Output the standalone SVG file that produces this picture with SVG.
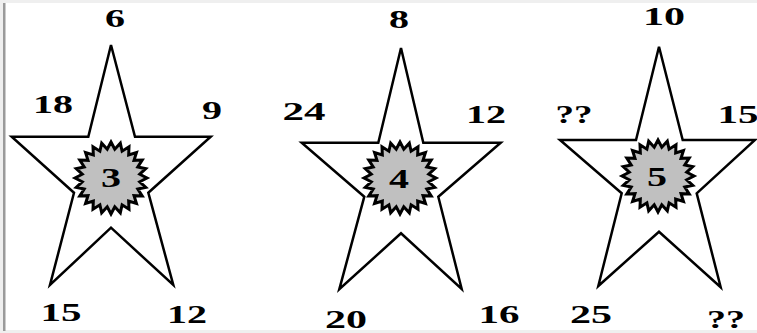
<svg xmlns="http://www.w3.org/2000/svg" xmlns:xlink="http://www.w3.org/1999/xlink" width="757" height="333" viewBox="0 0 757 333">
<style>
.star{fill:#fff;stroke:#000;stroke-width:2.5;stroke-linejoin:miter}
.burst{fill:#c0c0c0;stroke:#000;stroke-width:3;stroke-linejoin:miter}
.lbl{font-family:"Liberation Serif","Times New Roman",serif;font-weight:bold;font-size:26px;fill:#000;text-anchor:middle}
.ctr{font-family:"Liberation Serif","Times New Roman",serif;font-weight:bold;font-size:27px;fill:#000;text-anchor:middle}
</style>
<defs>
<polygon id="sun" points="0,-36 3.78,-28.75 9.32,-34.77 11.1,-26.79 18,-31.18 17.66,-23.01 25.46,-25.46 23.01,-17.66 31.18,-18 26.79,-11.1 34.77,-9.32 28.75,-3.78 36,0 28.75,3.78 34.77,9.32 26.79,11.1 31.18,18 23.01,17.66 25.46,25.46 17.66,23.01 18,31.18 11.1,26.79 9.32,34.77 3.78,28.75 0,36 -3.78,28.75 -9.32,34.77 -11.1,26.79 -18,31.18 -17.66,23.01 -25.46,25.46 -23.01,17.66 -31.18,18 -26.79,11.1 -34.77,9.32 -28.75,3.78 -36,0 -28.75,-3.78 -34.77,-9.32 -26.79,-11.1 -31.18,-18 -23.01,-17.66 -25.46,-25.46 -17.66,-23.01 -18,-31.18 -11.1,-26.79 -9.32,-34.77 -3.78,-28.75"/>
</defs>
<rect x="0" y="0" width="757" height="333" fill="#fff"/>
<rect x="0" y="0" width="757" height="3" fill="#efefef"/>
<rect x="0" y="330" width="757" height="3" fill="#efefef"/>
<rect x="0" y="0" width="3" height="333" fill="#efefef"/>
<rect x="3" y="3" width="2.5" height="328" fill="#9a9a9a"/>

<g id="star1">
<polygon class="star" points="111,45 135,136.7 210.7,136.7 148.3,192.7 173.3,285 111,227.7 50,285 74,192.7 11.7,136.7 88.3,136.7"/>
<use xlink:href="#sun" href="#sun" class="burst" transform="translate(111,178)"/>
<text class="ctr" x="111" y="187" textLength="20" lengthAdjust="spacingAndGlyphs">3</text>
<text class="lbl" x="115" y="27" textLength="20" lengthAdjust="spacingAndGlyphs">6</text>
<text class="lbl" x="53" y="113" textLength="40" lengthAdjust="spacingAndGlyphs">18</text>
<text class="lbl" x="212" y="119" textLength="20" lengthAdjust="spacingAndGlyphs">9</text>
<text class="lbl" x="61" y="321" textLength="41" lengthAdjust="spacingAndGlyphs">15</text>
<text class="lbl" x="187" y="323" textLength="40" lengthAdjust="spacingAndGlyphs">12</text>
</g>

<g id="star2">
<polygon class="star" points="401,48 423.3,142.7 500.7,142.7 438.3,196.7 461.7,289 401,233.3 339.3,289.3 364.3,196.7 301.7,142.7 378.3,142.7"/>
<use xlink:href="#sun" href="#sun" class="burst" transform="translate(400,178)"/>
<text class="ctr" x="399" y="188" textLength="20" lengthAdjust="spacingAndGlyphs">4</text>
<text class="lbl" x="399" y="28" textLength="20" lengthAdjust="spacingAndGlyphs">8</text>
<text class="lbl" x="304" y="120" textLength="43" lengthAdjust="spacingAndGlyphs">24</text>
<text class="lbl" x="486" y="123" textLength="40" lengthAdjust="spacingAndGlyphs">12</text>
<text class="lbl" x="346" y="328" textLength="42" lengthAdjust="spacingAndGlyphs">20</text>
<text class="lbl" x="499" y="323" textLength="41" lengthAdjust="spacingAndGlyphs">16</text>
</g>

<g id="star3">
<polygon class="star" points="659,46.7 682.7,140 755,140 696.7,193.3 720.7,287.3 659,231.7 598.3,286 621.7,193.3 560,140 636,140"/>
<use xlink:href="#sun" href="#sun" class="burst" transform="translate(658,176)"/>
<text class="ctr" x="657" y="186" textLength="20" lengthAdjust="spacingAndGlyphs">5</text>
<text class="lbl" x="664" y="25" textLength="42" lengthAdjust="spacingAndGlyphs">10</text>
<text class="lbl" x="574" y="123" textLength="37" lengthAdjust="spacingAndGlyphs">??</text>
<text class="lbl" x="738" y="123" textLength="41" lengthAdjust="spacingAndGlyphs">15</text>
<text class="lbl" x="591" y="323" textLength="42" lengthAdjust="spacingAndGlyphs">25</text>
<text class="lbl" x="726" y="328" textLength="38" lengthAdjust="spacingAndGlyphs">??</text>
</g>
</svg>
